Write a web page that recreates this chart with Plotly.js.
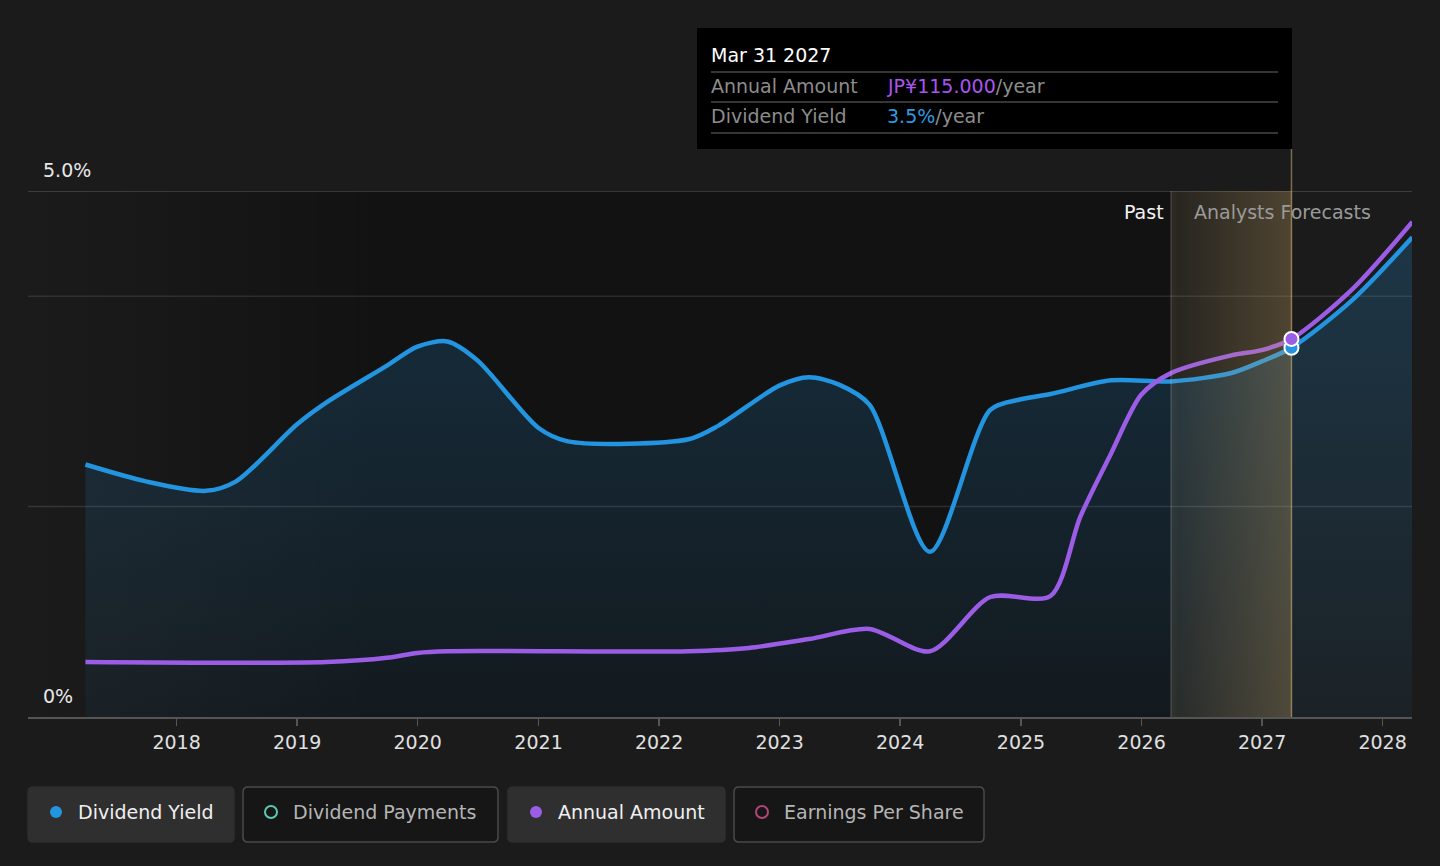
<!DOCTYPE html>
<html>
<head>
<meta charset="utf-8">
<title>Dividend yield vs annual amount</title>
<script src="https://cdn.plot.ly/plotly-3.0.1.min.js"></script>
<style>
  html, body { margin:0; padding:0; background:#1b1b1b; }
  #chart { width:1440px; height:866px; }
</style>
</head>
<body>
<div id="chart"></div>
<script>
// ---- data ----
var yieldDates = ['2017-03-31','2017-09-30','2018-03-31','2018-06-30','2018-12-31','2019-03-31',
  '2019-09-30','2019-12-31','2020-03-31','2020-06-30','2020-12-31','2021-03-31','2022-03-31',
  '2022-06-30','2022-12-31','2023-03-31','2023-06-30','2023-09-30','2024-03-31','2024-09-30',
  '2024-12-31','2025-03-31','2025-09-30','2026-03-31','2026-09-30','2026-12-31','2027-03-31',
  '2027-09-30','2028-03-31'];
var yieldVals = [2.40,2.24,2.15,2.24,2.78,2.99,3.34,3.52,3.57,3.39,2.75,2.62,2.64,
  2.77,3.15,3.23,3.16,2.97,1.57,2.92,3.02,3.07,3.20,3.19,3.27,3.38,3.51,3.96,4.56];

var amtDates = ['2017-03-31','2019-03-31','2019-09-30','2019-12-31','2020-03-31','2022-03-31',
  '2022-09-30','2023-03-31','2023-09-30','2024-03-31','2024-09-30','2025-03-31','2025-06-30',
  '2025-09-30','2025-12-31','2026-03-31','2026-09-30','2026-12-31','2027-03-31','2027-09-30',
  '2028-03-31'];
var amtVals = [16.7,16.7,18,19.5,20,20,21,23.7,26.8,20,36.5,36.8,61,80,98,104.6,110,111.6,115,130,150.6];

var yearTicks = ['2018','2019','2020','2021','2022','2023','2024','2025','2026','2027','2028'];
var hoverDate = '2027-03-31';
var forecastStart = '2026-03-31';
var legendNames = ['Dividend Yield','Dividend Payments','Annual Amount','Earnings Per Share'];
var legendColors = ['#2394df','#5cc7b2','#9b5de5','#b0457a'];
var legendOn = [true,false,true,false];

var blue = '#2394df', purple = '#9b5de5';

// pixel -> paper helpers (plot area 28..1412 x 191..717)
var L=28, B=717, W=1384, H=526;
function fx(p){ return (p-L)/W; }
function fy(p){ return (B-p)/H; }
function rrect(x0,y0,x1,y1,r){
  return 'M'+fx(x0+r)+','+fy(y0)+' L'+fx(x1-r)+','+fy(y0)+' Q'+fx(x1)+','+fy(y0)+' '+fx(x1)+','+fy(y0+r)+
    ' L'+fx(x1)+','+fy(y1-r)+' Q'+fx(x1)+','+fy(y1)+' '+fx(x1-r)+','+fy(y1)+
    ' L'+fx(x0+r)+','+fy(y1)+' Q'+fx(x0)+','+fy(y1)+' '+fx(x0)+','+fy(y1-r)+
    ' L'+fx(x0)+','+fy(y0+r)+' Q'+fx(x0)+','+fy(y0)+' '+fx(x0+r)+','+fy(y0)+' Z';
}
function grad(stops){ // horizontal gradient svg as data uri
  var s='<svg xmlns="http://www.w3.org/2000/svg" width="100" height="10" viewBox="0 0 100 10" preserveAspectRatio="none">'+
    '<defs><linearGradient id="g" x1="0" x2="1" y1="0" y2="0">';
  stops.forEach(function(st){ s+='<stop offset="'+st[0]+'" stop-color="'+st[1]+'" stop-opacity="'+st[2]+'"/>'; });
  s+='</linearGradient></defs><rect width="100" height="10" fill="url(#g)"/></svg>';
  return 'data:image/svg+xml;base64,'+btoa(s);
}

var hy = yieldVals[yieldDates.indexOf(hoverDate)];
var ha = amtVals[amtDates.indexOf(hoverDate)];

var traces = [
  { x:yieldDates, y:yieldVals, type:'scatter', mode:'lines', fill:'tozeroy',
    line:{color:blue, width:4.5, shape:'spline', smoothing:0.8},
    fillgradient:{type:'vertical', colorscale:[[0,'rgba(35,148,223,0.06)'],[1,'rgba(35,148,223,0.22)']]},
    hoverinfo:'skip' },
  { x:amtDates, y:amtVals, yaxis:'y2', type:'scatter', mode:'lines',
    line:{color:purple, width:4.5, shape:'spline', smoothing:0.8}, hoverinfo:'skip' }
];

var bandL = 1171, bandR = 1292;
var shapes = [
  // grid lines
  {type:'line', xref:'paper', yref:'y', x0:0, x1:1, y0:5, y1:5, line:{color:'rgba(255,255,255,0.2)', width:1.5}, layer:'below'},
  {type:'line', xref:'paper', yref:'y', x0:0, x1:1, y0:4, y1:4, line:{color:'rgba(255,255,255,0.1)', width:1.5}, layer:'below'},
  {type:'line', xref:'paper', yref:'y', x0:0, x1:1, y0:2, y1:2, line:{color:'rgba(255,255,255,0.12)', width:1.5}, layer:'below'},
  // past/forecast boundary and hover line
  {type:'line', xref:'x', yref:'paper', x0:forecastStart, x1:forecastStart, y0:0, y1:1, line:{color:'rgba(255,255,255,0.15)', width:1.5}, layer:'above'},
  {type:'line', xref:'x', yref:'paper', x0:hoverDate, x1:hoverDate, y0:0, y1:fy(149), line:{color:'rgba(205,175,115,0.55)', width:1.5}, layer:'above'},
  // hover markers
  {type:'circle', xref:'x', yref:'y', xsizemode:'pixel', ysizemode:'pixel', xanchor:hoverDate, yanchor:hy,
    x0:-7, x1:7, y0:-7, y1:7, fillcolor:blue, line:{color:'#ffffff', width:2}, layer:'above'},
  {type:'circle', xref:'x', yref:'y2', xsizemode:'pixel', ysizemode:'pixel', xanchor:hoverDate, yanchor:ha,
    x0:-7, x1:7, y0:-7, y1:7, fillcolor:purple, line:{color:'#ffffff', width:2}, layer:'above'},
  // tooltip box
  {type:'rect', xref:'paper', yref:'paper', x0:fx(697), x1:fx(1292), y0:fy(149), y1:fy(28), fillcolor:'#000', line:{width:0}},
  {type:'line', xref:'paper', yref:'paper', x0:fx(711), x1:fx(1278), y0:fy(72), y1:fy(72), line:{color:'#474747', width:1.5}},
  {type:'line', xref:'paper', yref:'paper', x0:fx(711), x1:fx(1278), y0:fy(102), y1:fy(102), line:{color:'#474747', width:1.5}},
  {type:'line', xref:'paper', yref:'paper', x0:fx(711), x1:fx(1278), y0:fy(133), y1:fy(133), line:{color:'#474747', width:1.5}}
];

// legend buttons
var btn = [[28,234],[243,498],[508,725],[734,984]];
var annotations = [];
for (var i=0;i<legendNames.length;i++){
  var b0 = btn[i][0], b1 = btn[i][1];
  shapes.push({type:'path', xref:'paper', yref:'paper', path:rrect(b0,787,b1,842,5),
    fillcolor: legendOn[i] ? '#2f2f2f' : '#161616',
    line:{color: legendOn[i] ? '#2f2f2f' : '#4a4a4a', width:1.5}});
  var cx = b0+28;
  shapes.push({type:'circle', xref:'paper', yref:'paper', x0:fx(cx-6), x1:fx(cx+6), y0:fy(818), y1:fy(806),
    fillcolor: legendOn[i] ? legendColors[i] : 'rgba(0,0,0,0)',
    line:{color:legendColors[i], width: legendOn[i] ? 0 : 2}});
  annotations.push({xref:'paper', yref:'paper', x:fx(cx+20), y:fy(812), xanchor:'left', yanchor:'middle',
    text:legendNames[i], showarrow:false, font:{size:19, color: legendOn[i] ? '#f0f0f0' : '#b5b5b5'}});
}

annotations.push(
  {xref:'paper', yref:'paper', x:fx(41), y:fy(170), xanchor:'left', yanchor:'middle', text:'5.0%', showarrow:false, font:{size:19, color:'#e8e8e8'}},
  {xref:'paper', yref:'paper', x:fx(41), y:fy(696), xanchor:'left', yanchor:'middle', text:'0%', showarrow:false, font:{size:19, color:'#e8e8e8'}},
  {xref:'paper', yref:'paper', x:fx(1166), y:fy(212), xanchor:'right', yanchor:'middle', text:'Past', showarrow:false, font:{size:19, color:'#f2f2f2'}},
  {xref:'paper', yref:'paper', x:fx(1192), y:fy(212), xanchor:'left', yanchor:'middle', text:'Analysts Forecasts', showarrow:false, font:{size:19, color:'#9a9a9a'}},
  {xref:'paper', yref:'paper', x:fx(709), y:fy(55), xanchor:'left', yanchor:'middle', text:'Mar 31 2027', showarrow:false, font:{size:19, color:'#ffffff'}},
  {xref:'paper', yref:'paper', x:fx(709), y:fy(86), xanchor:'left', yanchor:'middle', text:'Annual Amount', showarrow:false, font:{size:19, color:'#8c8c8c'}},
  {xref:'paper', yref:'paper', x:fx(885), y:fy(86), xanchor:'left', yanchor:'middle',
    text:'<span style="color:#a855f0">JP¥'+ha.toFixed(3)+'</span>/year', showarrow:false, font:{size:19, color:'#8c8c8c'}},
  {xref:'paper', yref:'paper', x:fx(709), y:fy(116), xanchor:'left', yanchor:'middle', text:'Dividend Yield', showarrow:false, font:{size:19, color:'#8c8c8c'}},
  {xref:'paper', yref:'paper', x:fx(885), y:fy(116), xanchor:'left', yanchor:'middle',
    text:'<span style="color:#2d9be0">'+hy.toFixed(1)+'%</span>/year', showarrow:false, font:{size:19, color:'#8c8c8c'}}
);

var images = [
  {source:grad([[0,'#000',0],[0.3,'#000',0.33],[1,'#000',0.33]]), xref:'paper', yref:'paper',
    x:0, y:1, sizex:fx(bandL), sizey:1, xanchor:'left', yanchor:'top', sizing:'stretch', layer:'below'},
  {source:grad([[0,'rgb(200,165,100)',0.12],[0.07,'rgb(200,165,100)',0.08],[1,'rgb(200,165,100)',0.3]]), xref:'paper', yref:'paper',
    x:fx(bandL), y:1, sizex:fx(bandR)-fx(bandL), sizey:1, xanchor:'left', yanchor:'top', sizing:'stretch', layer:'above'}
];

var layout = {
  width:1440, height:866,
  margin:{l:L, r:28, t:191, b:149},
  paper_bgcolor:'#1b1b1b', plot_bgcolor:'rgba(0,0,0,0)',
  font:{family:'DejaVu Sans, sans-serif', color:'#e0e0e0', size:19},
  showlegend:false,
  xaxis:{type:'date', range:['2016-10-08','2028-03-30'],
    tickvals:yearTicks.map(function(y){ return y+'-01-01'; }), ticktext:yearTicks,
    ticks:'outside', ticklen:7, tickwidth:1.5, tickcolor:'#555', showline:true, linecolor:'#555', linewidth:2,
    showgrid:false, zeroline:false, tickfont:{size:19, color:'#e0e0e0'}, fixedrange:true},
  yaxis:{range:[0,5], showticklabels:false, showgrid:false, zeroline:false, fixedrange:true},
  yaxis2:{range:[0,160], overlaying:'y', visible:false, fixedrange:true},
  shapes:shapes, annotations:annotations, images:images
};

Plotly.newPlot('chart', traces, layout, {displayModeBar:false, staticPlot:true});
</script>
</body>
</html>
